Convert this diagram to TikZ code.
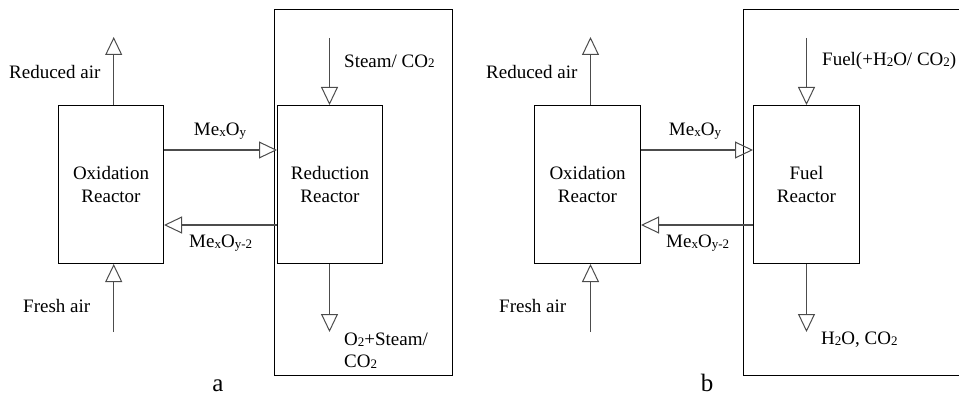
\documentclass[tikz,border=0pt]{standalone}
\usepackage{fontspec}
\setmainfont{Liberation Serif}
\usetikzlibrary{arrows.meta}
\newcommand{\smallsub}[1]{\raisebox{-0.5pt}{\fontsize{13}{13}\selectfont #1}}
\tikzset{
  reactor/.style={draw=black, line width=1pt, inner sep=0pt, anchor=north west},
  flow/.style={draw=black!70, line width=1.1pt, -{Triangle[open, length=18pt, width=17pt, line width=1pt]}},
  lbl/.style={font=\fontsize{19}{22}\selectfont, inner sep=0pt},
  outer/.style={draw=black, line width=1pt},
  panel/.style={font=\fontsize{25}{25}\selectfont, inner sep=0pt, anchor=base}
}
\begin{document}
\begin{tikzpicture}[x=1pt, y=-1pt]
\useasboundingbox (0,0) rectangle (959,396);
% ---------- panel a ----------
\draw[outer] (274,10) rectangle (452,375);
\node[reactor, minimum width=105pt, minimum height=158pt] (oxa) at (58,105) {};
\node[lbl, align=center] (oxat) at (oxa.center) {Oxidation\\Reactor};
\node[reactor, minimum width=105pt, minimum height=158pt] (rda) at (277,105) {};
\node[lbl, align=center] (rdat) at (rda.center) {Reduction\\Reactor};
\coordinate (ra) at (113.7,37);
\coordinate (fa) at (113.7,332);
\coordinate (sa) at (329.5,38);
\coordinate (oa) at (329.5,332);
\draw[flow] (oxa.north -| ra) -- (ra);
\draw[flow] (fa) -- (oxa.south -| fa);
\draw[flow] (sa) -- (rda.north -| sa);
\draw[flow] (rda.south -| oa) -- (oa);
\draw[flow] (oxa.east |- 0,150) -- (rda.west |- 0,150);
\draw[flow] (rda.west |- 0,225) -- (oxa.east |- 0,225);
\node[lbl, anchor=west] (rat) at (9,72) {Reduced air};
\node[lbl, anchor=west] (fat) at (23,306) {Fresh air};
\node[lbl, anchor=west] (sat) at (344,61) {Steam/ CO\smallsub{2}};
\node[lbl] (m1a) at (220,131) {Me\smallsub{x}O\smallsub{y}};
\node[lbl, anchor=west] (m2a) at (189,243) {Me\smallsub{x}O\smallsub{y-2}};
\node[lbl, anchor=north west, align=left] (oat) at (344,333) {O\smallsub{2}+Steam/\\CO\smallsub{2}};
\node[panel] (pa) at (218,391) {a};
% ---------- panel b ----------
\draw[outer] (962,10) -- (743,10) -- (743,375) -- (962,375);
\node[reactor, minimum width=106pt, minimum height=158pt] (oxb) at (534,105) {};
\node[lbl, align=center] (oxbt) at (oxb.center) {Oxidation\\Reactor};
\node[reactor, minimum width=106pt, minimum height=158pt] (fub) at (753,105) {};
\node[lbl, align=center] (fubt) at (fub.center) {Fuel\\Reactor};
\coordinate (rb) at (590.5,37);
\coordinate (fb) at (590.5,332);
\coordinate (sb) at (806.5,38);
\coordinate (ob) at (806.5,332);
\draw[flow] (oxb.north -| rb) -- (rb);
\draw[flow] (fb) -- (oxb.south -| fb);
\draw[flow] (sb) -- (fub.north -| sb);
\draw[flow] (fub.south -| ob) -- (ob);
\draw[flow] (oxb.east |- 0,150) -- (fub.west |- 0,150);
\draw[flow] (fub.west |- 0,225) -- (oxb.east |- 0,225);
\node[lbl, anchor=west] (rbt) at (486,72) {Reduced air};
\node[lbl, anchor=west] (fbt) at (499,306) {Fresh air};
\node[lbl, anchor=west] (sbt) at (822,61) {Fuel(+H\smallsub{2}O/ CO\smallsub{2})};
\node[lbl] (m1b) at (695,131) {Me\smallsub{x}O\smallsub{y}};
\node[lbl, anchor=west] (m2b) at (666,243) {Me\smallsub{x}O\smallsub{y-2}};
\node[lbl, anchor=west] (obt) at (821,340) {H\smallsub{2}O, CO\smallsub{2}};
\node[panel] (pb) at (707,391) {b};
\end{tikzpicture}
\end{document}
